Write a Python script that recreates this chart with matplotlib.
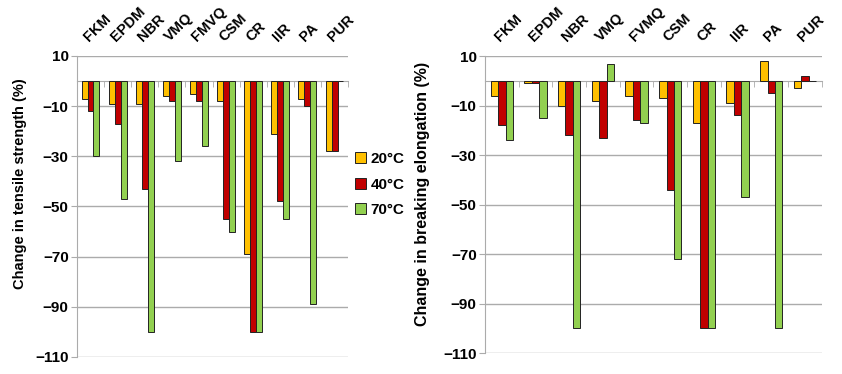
import matplotlib
matplotlib.use("Agg")
import matplotlib.pyplot as plt
import matplotlib.transforms as mtransforms
from matplotlib.patches import Patch
import numpy as np

plt.rcParams['font.family'] = ['Liberation Sans', 'DejaVu Sans']
plt.rcParams['font.weight'] = 'bold'

cats_ts = ["FKM", "EPDM", "NBR", "VMQ", "FMVQ", "CSM", "CR", "IIR", "PA", "PUR"]
cats_el = ["FKM", "EPDM", "NBR", "VMQ", "FVMQ", "CSM", "CR", "IIR", "PA", "PUR"]
temps = ["20°C", "40°C", "70°C"]

# change in tensile strength (%)
ts_20 = [-7, -9, -9, -6, -5, -8, -69, -21, -7, -28]
ts_40 = [-12, -17, -43, -8, -8, -55, -100, -48, -10, -28]
ts_70 = [-30, -47, -100, -32, -26, -60, -100, -55, -89, 0]

# change in breaking elongation (%)
el_20 = [-6, -1, -10, -8, -6, -7, -17, -9, 8, -3]
el_40 = [-18, -1, -22, -23, -16, -44, -100, -14, -5, 2]
el_70 = [-24, -15, -100, 7, -17, -72, -100, -47, -100, 0]

colors = ["#FFC000", "#C00000", "#92D050"]
grid_c = "#ABABAB"

fig = plt.figure(figsize=(8.42, 3.74), dpi=100)
ax1 = fig.add_axes([0.0914, 0.0455, 0.322, 0.805])
ax2 = fig.add_axes([0.576, 0.056, 0.400, 0.794])


def draw(ax, cats, series, ylabel, ylab_size, ylab_pos):
    x = np.arange(len(cats))
    w = 0.22
    for k, (vals, c) in enumerate(zip(series, colors)):
        ax.bar(x + (k - 1) * w, vals, w, color=c, edgecolor="#222222",
               linewidth=0.7, zorder=3)
    ax.set_xlim(-0.5, len(cats) - 0.5)
    ax.set_ylim(-110, 10)
    ax.set_yticks(np.arange(-110, 11, 20))
    ax.yaxis.grid(True, color=grid_c, linewidth=1.0, zorder=0)
    ax.set_axisbelow(True)
    for s in ["top", "right"]:
        ax.spines[s].set_visible(False)
    ax.spines["left"].set_color(grid_c)
    ax.spines["bottom"].set_position(("data", 0))
    ax.spines["bottom"].set_color(grid_c)
    ax.spines["bottom"].set_zorder(2)
    ax.set_xticks(x)
    ax.set_xticklabels([])
    ax.set_xticks(np.arange(len(cats) + 1) - 0.5, minor=True)
    ax.tick_params(axis="x", which="major", length=0, top=False, bottom=False)
    ax.tick_params(axis="x", which="minor", length=4, color=grid_c,
                   direction="out", bottom=True, top=False)
    ax.tick_params(axis="y", length=4, color=grid_c, labelsize=11, pad=2)
    for t in ax.get_yticklabels():
        t.set_fontweight("bold")

    # rotated category names above the plot
    trans = mtransforms.blended_transform_factory(ax.transData, ax.transAxes)
    trans = trans + mtransforms.ScaledTranslation(-2 / 100, 14 / 100,
                                                  fig.dpi_scale_trans)
    for xi, name in zip(x, cats):
        ax.text(xi, 1.0, name, transform=trans, rotation=45,
                rotation_mode="anchor", ha="left", va="baseline",
                fontsize=10.5, fontweight="bold")

    ax.set_ylabel(ylabel, fontsize=ylab_size, fontweight="bold")
    ax.yaxis.set_label_coords(*ylab_pos)


draw(ax1, cats_ts, [ts_20, ts_40, ts_70], "Change in tensile strength (%)",
     10.5, (-0.185, 0.575))
draw(ax2, cats_el, [el_20, el_40, el_70], "Change in breaking elongation (%)",
     11.5, (-0.163, 0.537))

handles = [Patch(facecolor=c, edgecolor="#222222", linewidth=0.7) for c in colors]
fig.legend(handles, temps, loc="upper left", bbox_to_anchor=(0.405, 0.63),
           frameon=False, handlelength=0.75, handleheight=0.75,
           handletextpad=0.3, labelspacing=0.75,
           prop={"weight": "bold", "size": 11})

fig.savefig("out.png", dpi=100)
